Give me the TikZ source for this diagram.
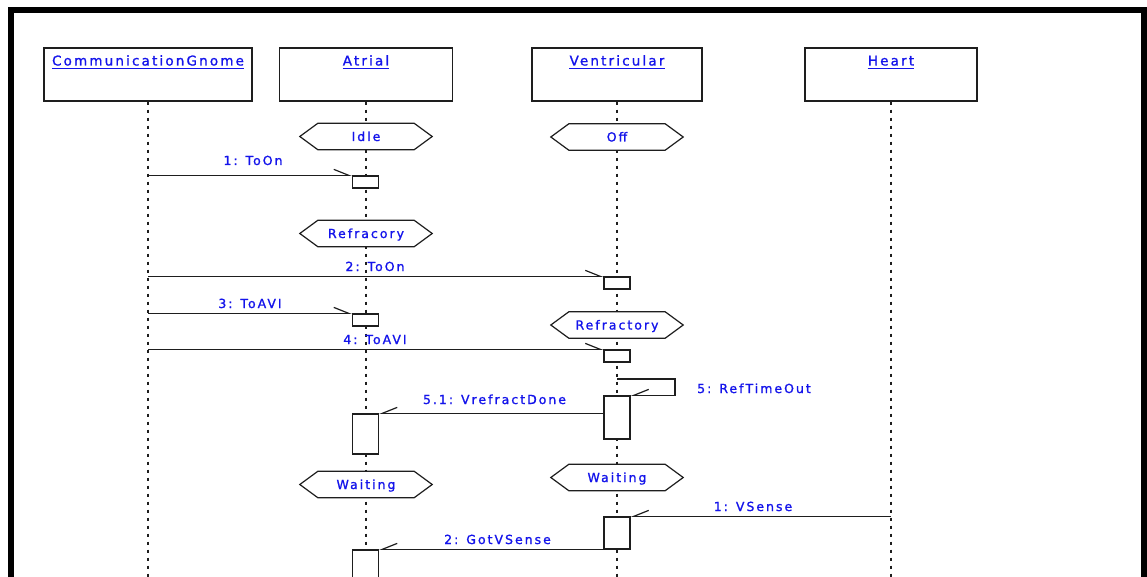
\documentclass[tikz,border=0pt]{standalone}
\usepackage{fontspec}
\usetikzlibrary{arrows.meta}
\newfontfamily\uifont[LetterSpace=16,FakeBold=1.2]{DejaVu Sans}
\definecolor{txtblue}{RGB}{20,20,235}
\definecolor{ink}{RGB}{30,30,30}
\newcommand\hexstate[4]{%
  \node[stateshape] (#1) at (#2,#3) {};
  \draw[statepath] (#1.west) -- ([xshift=18pt]#1.north west) -- ([xshift=-18pt]#1.north east) -- (#1.east) -- ([xshift=-18pt]#1.south east) -- ([xshift=18pt]#1.south west) -- cycle;
  \node[msglabel, anchor=base] (#1-t) at ([yshift=-4.5pt]#1.center) {#4};
}
\newcommand\headtext[4]{%
  \node[headlabel] (#1) at (#2,#3) {#4};
  \draw[txtblue, line width=0.9pt] ([yshift=-2.5pt]#1.base west) -- ([yshift=-2.5pt]#1.base east);
}
\begin{document}
\begin{tikzpicture}[x=1pt,y=-1pt,
  lifebox/.style={draw=ink, line width=1.3pt, fill=white, inner sep=0pt},
  headlabel/.style={font=\uifont\fontsize{13.5}{16}\selectfont, text=txtblue, inner sep=0pt, anchor=base},
  msglabel/.style={font=\uifont\fontsize{12.5}{15}\selectfont, text=txtblue, inner sep=0pt},
  lifeline/.style={draw=ink, line width=2pt, dash pattern=on 3pt off 5pt},
  stateshape/.style={rectangle, draw=none, minimum width=132pt, minimum height=26pt, inner sep=0pt},
  statepath/.style={draw=ink, line width=1.2pt, fill=white},
  actbox/.style={draw=ink, line width=1.3pt, fill=white, minimum width=26pt, inner sep=0pt},
  msg/.style={draw=ink, line width=1.2pt},
  toright/.style={msg, -{Straight Barb[left, length=15pt, width=12pt]}},
  toleft/.style={msg, -{Straight Barb[right, length=15pt, width=12pt]}}]
\useasboundingbox (0,0) rectangle (1147,577);
\clip (0,0) rectangle (1147,577);
\fill[white] (0,0) rectangle (1147,577);
\coordinate (bot) at (0,585);
\coordinate (s5) at (0,379);

% lifeline heads
\node[lifebox, minimum width=208pt, minimum height=53pt] (cg) at (148,74.5) {};
\node[lifebox, minimum width=173pt, minimum height=53pt] (at) at (366,74.5) {};
\node[lifebox, minimum width=170pt, minimum height=53pt] (ve) at (617,74.5) {};
\node[lifebox, minimum width=172pt, minimum height=53pt] (he) at (891,74.5) {};
\headtext{cgt}{148}{65.5}{CommunicationGnome}
\headtext{att}{366}{65.5}{Atrial}
\headtext{vet}{617}{65.5}{Ventricular}
\headtext{het}{891}{65.5}{Heart}

% lifelines
\draw[lifeline] (cg.south) -- (cg.south |- bot);
\draw[lifeline] (at.south) -- (at.south |- bot);
\draw[lifeline] (ve.south) -- (ve.south |- bot);
\draw[lifeline] (he.south) -- (he.south |- bot);

% states
\hexstate{sIdle}{366}{136.5}{Idle}
\hexstate{sOff}{617}{137}{Off}
\hexstate{sRefA}{366}{233.5}{Refracory}
\hexstate{sRefV}{617}{325}{Refractory}
\hexstate{sWaitA}{366}{484.5}{Waiting}
\hexstate{sWaitV}{617}{477.5}{Waiting}

% activations
\node[actbox, minimum height=12pt] (a1) at (365.5,182) {};
\node[actbox, minimum height=12pt] (v1) at (617,283) {};
\node[actbox, minimum height=12pt] (a2) at (365.5,320) {};
\node[actbox, minimum height=12pt] (v2) at (617,356) {};
\node[actbox, minimum height=43pt] (v3) at (617,417.5) {};
\node[actbox, minimum height=40pt] (a3) at (365.5,434) {};
\node[actbox, minimum height=32pt] (v4) at (617,533) {};
\node[actbox, minimum height=50pt] (a4) at (365.5,575) {};

% messages
\draw[toright] (cg.south |- a1.north west) -- (a1.north west);
\draw[toright] (cg.south |- v1.north west) -- (v1.north west);
\draw[toright] (cg.south |- a2.north west) -- (a2.north west);
\draw[toright] (cg.south |- v2.north west) -- (v2.north west);
\draw[toleft] (ve.south |- s5) -- ++(58,0) |- (v3.north east);
\draw[toleft] (v3.west |- a3.north east) -- (a3.north east);
\draw[toleft] (he.south |- v4.north east) -- (v4.north east);
\draw[toleft] (v4.south |- a4.north) -- (a4.north east);

% message labels
\node[msglabel, anchor=base] (l1) at (253,165) {1: ToOn};
\node[msglabel, anchor=base] (l2) at (375,271) {2: ToOn};
\node[msglabel, anchor=base] (l3) at (250,308) {3: ToAVI};
\node[msglabel, anchor=base] (l4) at (375,344) {4: ToAVI};
\node[msglabel, anchor=base west] (l5) at (697,393) {5: RefTimeOut};
\node[msglabel, anchor=base] (l51) at (494.5,404) {5.1: VrefractDone};
\node[msglabel, anchor=base] (l6) at (753,511) {1: VSense};
\node[msglabel, anchor=base] (l7) at (497.5,544) {2: GotVSense};

% frame
\draw[black, line width=6pt] (11,600) -- (11,10) -- (1144,10) -- (1144,600);
\end{tikzpicture}
\end{document}
